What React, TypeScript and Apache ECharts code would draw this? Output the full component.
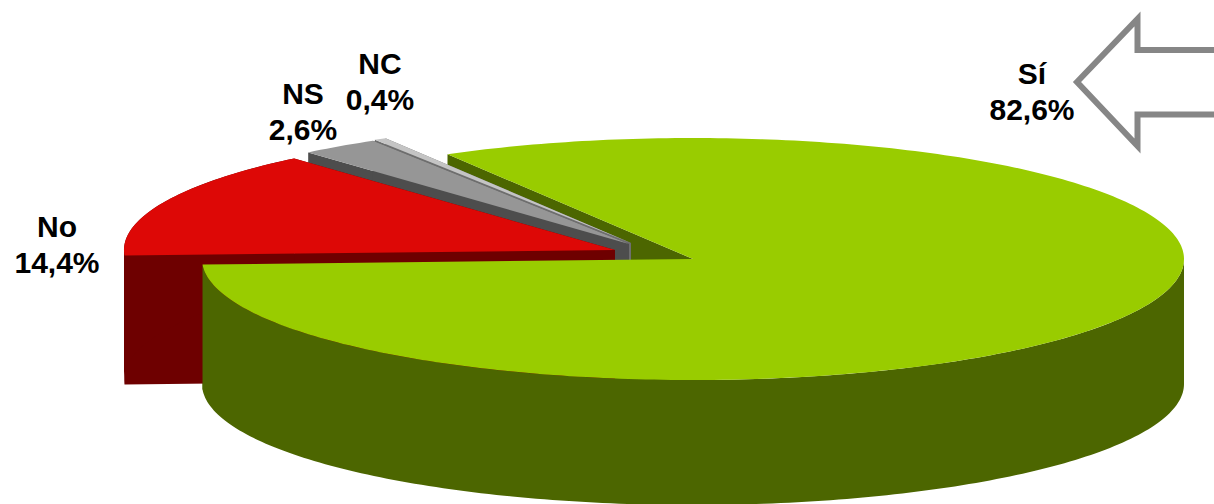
import React, { useEffect, useRef } from "react";
import * as echarts from "echarts";

const categories = ["Sí", "No", "NS", "NC"];
const shares = [82.6, 14.4, 2.6, 0.4];

const WIDTH = 1214;
const HEIGHT = 504;
const START_ANGLE = 120;
const RX = 491;
const RY = 121;
const FONT = '"Liberation Sans", Arial, sans-serif';

const sliceStyles: Record<string, any> = {
  "Sí": { cx: 693, cy: 259, depth: 125, top: "#99CC00", wall: "#4C6600", zTop: 9, zInner: 1, zOuter: 8, label: [1032, 91] },
  "No": { cx: 615, cy: 250, depth: 129, top: "#DD0806", wall: "#6E0000", zTop: 7, zInner: 6, zOuter: 6, label: [57, 244] },
  "NS": { cx: 629, cy: 244, depth: 125, top: "#969696", wall: "#4D4D4D", zTop: 5, zInner: 4, zOuter: 4, label: [303, 111] },
  "NC": { cx: 631, cy: 243, depth: 125, top: "#C4C4C4", wall: "#6E6E6E", zTop: 3, zInner: 2, zOuter: 2, label: [380, 81] },
};

const arrowPoints = [
  [1077, 82],
  [1137.5, 19],
  [1137.5, 50],
  [1240, 50],
  [1240, 114.5],
  [1137.5, 114.5],
  [1137.5, 146],
];

const rim = (cx: number, cy: number, a0: number, a1: number, dy = 0) => {
  const n = Math.max(2, Math.ceil(Math.abs(a1 - a0)));
  const pts: number[][] = [];
  for (let i = 0; i <= n; i++) {
    const a = ((a0 + ((a1 - a0) * i) / n) * Math.PI) / 180;
    pts.push([cx + RX * Math.cos(a), cy - RY * Math.sin(a) + dy]);
  }
  return pts;
};

const formatLabel = (name: string, v: number) =>
  `${name}\n${v.toFixed(1).replace(".", ",")}%`;

const renderItem = (params: any, api: any) => {
  const i = params.dataIndex;
  const total = shares.reduce((s, v) => s + v, 0);
  const value = api.value(0);
  const before = shares.slice(0, i).reduce((s, v) => s + v, 0);
  const a0 = START_ANGLE - (before / total) * 360;
  const a1 = a0 - (value / total) * 360;
  const name = categories[i];
  const s = sliceStyles[name];
  const { cx, cy, depth } = s;
  const children: any[] = [];
  const arc = rim(cx, cy, a0, a1);

  const wallFor = (ang: number, z: number) => {
    const p = rim(cx, cy, ang, ang, 0)[0];
    children.push({
      type: "polygon",
      z2: z,
      shape: { points: [[cx, cy], p, [p[0], p[1] + depth], [cx, cy + depth]] },
      style: { fill: s.wall },
    });
  };
  wallFor(a0, s.zInner);
  wallFor(a1, s.zInner);

  // Outer wall: the part of the rim that faces the viewer (lower half of the ellipse).
  const from = Math.min(a0, 0);
  const to = Math.max(a1, -180);
  if (from > to) {
    const front = rim(cx, cy, from, to);
    const back = rim(cx, cy, to, from, depth);
    children.push({
      type: "polygon",
      z2: s.zOuter,
      shape: { points: [...front, ...back] },
      style: { fill: s.wall },
    });
    // The stretch of wall past the leftmost point of the ellipse.
    if (a1 < -180) {
      const tail = rim(cx, cy, -180, a1);
      const tailBack = rim(cx, cy, a1, -180, depth);
      children.push({
        type: "polygon",
        z2: s.zOuter,
        shape: { points: [...tail, ...tailBack] },
        style: { fill: s.wall },
      });
    }
  }

  children.push({
    type: "polygon",
    z2: s.zTop,
    shape: { points: [[cx, cy], ...arc] },
    style: { fill: s.top },
  });

  children.push({
    type: "text",
    z2: 20,
    x: s.label[0],
    y: s.label[1],
    style: {
      text: formatLabel(name, value),
      fontFamily: FONT,
      fontWeight: "bold",
      fontSize: 30,
      lineHeight: 36,
      fill: "#000000",
      align: "center",
      verticalAlign: "middle",
    },
  });

  return { type: "group", children };
};

export default function App() {
  const ref = useRef<HTMLDivElement>(null);
  useEffect(() => {
    const chart = echarts.init(ref.current!, undefined, { renderer: "svg" });
    chart.setOption({
      animation: false,
      backgroundColor: "#FFFFFF",
      graphic: [
        {
          type: "polygon",
          silent: true,
          shape: { points: arrowPoints },
          style: { fill: "#FFFFFF", stroke: "#868686", lineWidth: 6, lineJoin: "miter", miterLimit: 10 },
        },
      ],
      series: [
        {
          type: "custom",
          coordinateSystem: "none",
          silent: true,
          clip: false,
          renderItem,
          data: categories.map((name, i) => ({ name, value: shares[i] })),
        },
      ],
    });
    return () => chart.dispose();
  }, []);
  return (
    <div
      ref={ref}
      style={{ position: "absolute", left: 0, top: 0, width: WIDTH, height: HEIGHT }}
    />
  );
}
